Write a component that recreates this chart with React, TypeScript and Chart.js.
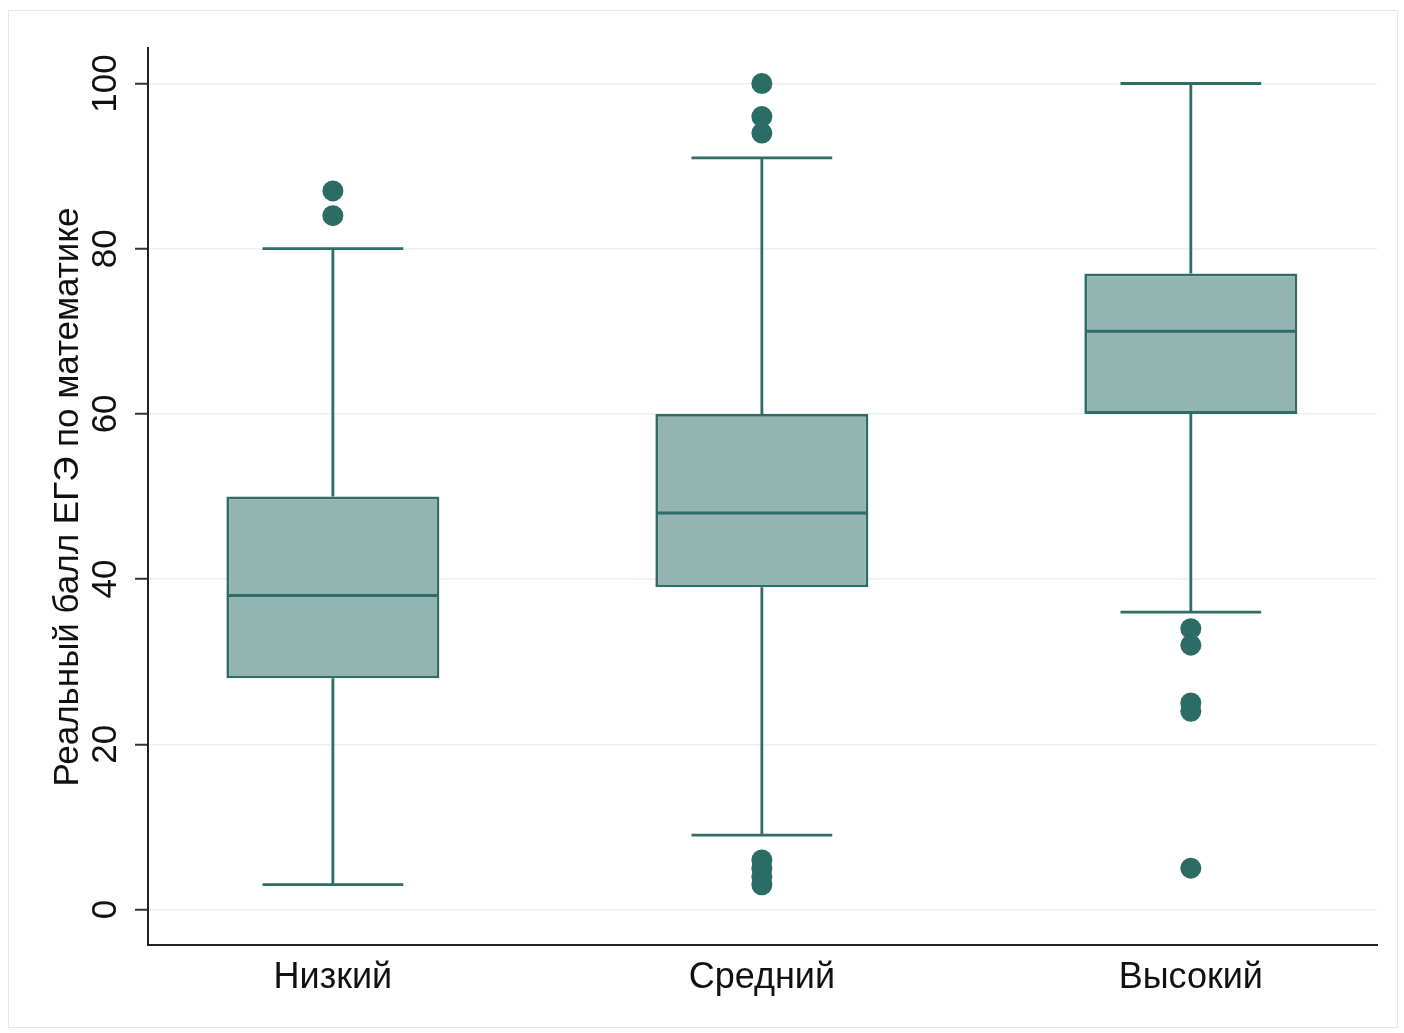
import React, { useEffect, useRef } from 'react';
import { Chart, registerables } from 'chart.js';

Chart.register(...registerables);

const CATEGORIES = ['Низкий', 'Средний', 'Высокий'];
const POSITIONS = [1, 2, 3];
const WHISKER_LOW = [3, 9, 36];
const Q1 = [28, 39, 60];
const MEDIAN = [38, 48, 70];
const Q3 = [50, 60, 77];
const WHISKER_HIGH = [80, 91, 100];
const OUTLIERS_LOW: number[][] = [[], [3, 4, 5, 6], [34, 32, 25, 24, 5]];
const OUTLIERS_HIGH: number[][] = [[84, 87], [94, 96, 100], []];
const Y_TICKS = [0, 20, 40, 60, 80, 100];
const Y_TITLE = 'Реальный балл ЕГЭ по математике';

const FONT = '"Liberation Sans", Arial, Helvetica, sans-serif';
const LINE = '#2f6d67';
const FILL = '#93b4b0';
const DOT = '#2b6c65';
const CAP_HALF = 0.164;

const boxPlugin = {
  id: 'boxExtras',
  beforeDraw(chart: any) {
    const ctx = chart.ctx;
    ctx.save();
    ctx.fillStyle = '#ffffff';
    ctx.fillRect(0, 0, chart.width, chart.height);
    ctx.strokeStyle = '#e6e6e6';
    ctx.lineWidth = 1;
    ctx.strokeRect(8.5, 10.5, 1389, 1017);
    ctx.restore();
  },
  beforeDatasetsDraw(chart: any) {
    const ctx = chart.ctx;
    const xs = chart.scales.x;
    const ys = chart.scales.y;
    ctx.save();
    ctx.strokeStyle = LINE;
    ctx.lineWidth = 2.8;
    POSITIONS.forEach((p, i) => {
      const cx = xs.getPixelForValue(p);
      const l = xs.getPixelForValue(p - CAP_HALF);
      const r = xs.getPixelForValue(p + CAP_HALF);
      const yLow = ys.getPixelForValue(WHISKER_LOW[i]);
      const yHigh = ys.getPixelForValue(WHISKER_HIGH[i]);
      const yQ1 = ys.getPixelForValue(Q1[i]);
      const yQ3 = ys.getPixelForValue(Q3[i]);
      ctx.beginPath();
      ctx.moveTo(cx, yLow);
      ctx.lineTo(cx, yQ1);
      ctx.moveTo(cx, yQ3);
      ctx.lineTo(cx, yHigh);
      ctx.moveTo(l, yLow);
      ctx.lineTo(r, yLow);
      ctx.moveTo(l, yHigh);
      ctx.lineTo(r, yHigh);
      ctx.stroke();
    });
    ctx.restore();
  },
  afterDatasetsDraw(chart: any) {
    const ctx = chart.ctx;
    const xs = chart.scales.x;
    const ys = chart.scales.y;
    const meta = chart.getDatasetMeta(0);
    ctx.save();
    ctx.strokeStyle = LINE;
    ctx.lineWidth = 3;
    POSITIONS.forEach((p, i) => {
      const bar = meta.data[i];
      const half = bar.width / 2;
      const cx = xs.getPixelForValue(p);
      const ym = ys.getPixelForValue(MEDIAN[i]);
      ctx.beginPath();
      ctx.moveTo(cx - half + 1, ym);
      ctx.lineTo(cx + half - 1, ym);
      ctx.stroke();
    });
    // rotated y tick labels
    ctx.fillStyle = '#111111';
    ctx.font = `35px ${FONT}`;
    ctx.textAlign = 'center';
    ctx.textBaseline = 'middle';
    Y_TICKS.forEach((t) => {
      const y = ys.getPixelForValue(t);
      ctx.save();
      ctx.translate(106, y);
      ctx.rotate(-Math.PI / 2);
      ctx.fillText(String(t), 0, 0);
      ctx.restore();
    });
    // y title
    ctx.save();
    ctx.translate(68, 497);
    ctx.rotate(-Math.PI / 2);
    ctx.fillText(Y_TITLE, 0, 0);
    ctx.restore();
    ctx.restore();
  },
};

export default function App() {
  const ref = useRef<HTMLCanvasElement>(null);
  useEffect(() => {
    document.body.style.margin = '0';
    const canvas = ref.current;
    if (!canvas) return;
    const boxData = POSITIONS.map((p, i) => ({ x: p, y: [Q1[i], Q3[i]] }));
    const outliers: { x: number; y: number }[] = [];
    POSITIONS.forEach((p, i) => {
      OUTLIERS_LOW[i].forEach((v) => outliers.push({ x: p, y: v }));
      OUTLIERS_HIGH[i].forEach((v) => outliers.push({ x: p, y: v }));
    });
    const chart = new Chart(canvas, {
      type: 'bar',
      data: {
        datasets: [
          {
            type: 'bar',
            data: boxData as any,
            backgroundColor: FILL,
            borderColor: LINE,
            borderWidth: 2.8,
            borderSkipped: false,
            barPercentage: 0.4965,
            categoryPercentage: 1,
          } as any,
          {
            type: 'scatter',
            data: outliers,
            backgroundColor: DOT,
            borderWidth: 0,
            pointRadius: 10.5,
          } as any,
        ],
      },
      options: {
        animation: false,
        responsive: false,
        devicePixelRatio: 1,
        layout: { padding: { top: 48, right: 27, left: 0, bottom: 0 } },
        plugins: { legend: { display: false }, tooltip: { enabled: false } },
        scales: {
          x: {
            type: 'linear',
            offset: false,
            min: 0.569,
            max: 3.434,
            afterBuildTicks: (s: any) => {
              s.ticks = POSITIONS.map((v) => ({ value: v }));
            },
            afterFit: (s: any) => {
              s.height = 88;
            },
            grid: { display: false, drawTicks: false, offset: false },
            border: { display: true, color: '#222222', width: 2 },
            ticks: {
              padding: 11,
              color: '#111111',
              font: { family: FONT, size: 36 },
              callback: (v: any) => CATEGORIES[POSITIONS.indexOf(Number(v))] ?? '',
            },
          },
          y: {
            type: 'linear',
            min: -4.3,
            max: 104.3,
            afterBuildTicks: (s: any) => {
              s.ticks = Y_TICKS.map((v) => ({ value: v }));
            },
            afterFit: (s: any) => {
              s.width = 148;
            },
            grid: {
              color: '#eeeeee',
              lineWidth: 1.5,
              drawTicks: true,
              tickLength: 13,
              tickColor: '#333333',
              tickWidth: 2,
            } as any,
            border: { display: true, color: '#222222', width: 2 },
            ticks: { display: false },
          },
        },
      },
      plugins: [boxPlugin],
    } as any);
    return () => chart.destroy();
  }, []);
  return <canvas ref={ref} width={1404} height={1033} style={{ display: 'block', width: 1404, height: 1033 }} />;
}
